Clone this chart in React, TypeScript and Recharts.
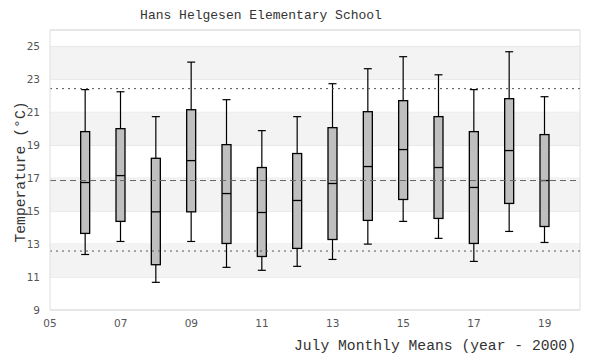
import React from 'react';
import {
    ComposedChart, Bar, XAxis, YAxis, CartesianGrid,
    ReferenceArea, ReferenceLine
} from 'recharts';

// July monthly mean temperatures, year - 2000
const years = [6, 7, 8, 9, 10, 11, 12, 13, 14, 15, 16, 17, 18, 19];
const whiskerLow = [12.37, 13.16, 10.68, 13.16, 11.59, 11.41, 11.65, 12.07, 13.0, 14.38, 13.35, 11.95, 13.77, 13.1];
const quartile1 = [13.65, 14.38, 11.75, 14.96, 13.04, 12.25, 12.74, 13.28, 14.44, 15.71, 14.56, 13.04, 15.47, 14.07];
const medians = [16.74, 17.16, 14.96, 18.07, 16.07, 14.92, 15.65, 16.68, 17.71, 18.74, 17.65, 16.44, 18.68, 16.86];
const quartile3 = [19.83, 20.01, 18.21, 21.16, 19.04, 17.65, 18.5, 20.07, 21.04, 21.71, 20.74, 19.83, 21.83, 19.65];
const whiskerHigh = [22.38, 22.25, 20.74, 24.05, 21.77, 19.89, 20.74, 22.74, 23.65, 24.38, 23.28, 22.38, 24.68, 21.95];

const xTicks = [5, 7, 9, 11, 13, 15, 17, 19];
const yTicks = [9, 11, 13, 15, 17, 19, 21, 23, 25];
const bandStarts = [11, 15, 19, 23];
const upperLimit = 22.44;
const lowerLimit = 12.58;
const overallMean = 16.86;

const data = years.map((yr, i) => ({
    year: yr,
    low: whiskerLow[i],
    q1: quartile1[i],
    median: medians[i],
    q3: quartile3[i],
    high: whiskerHigh[i],
}));

const mono = '"Liberation Mono", "DejaVu Sans Mono", monospace';

const BoxShape = (props: any) => {
    const { x, y, width, height, payload } = props;
    if (x == null || y == null) return null;
    const top = Math.min(y, y + height);
    const h = Math.abs(height);
    const { low, q1, median, q3, high } = payload;
    const toPx = (v: number) => top + (h * (high - v)) / (high - low);
    const cx = x + width / 2;
    const yQ1 = toPx(q1);
    const yQ3 = toPx(q3);
    const yMed = toPx(median);
    const cap = 4;
    return (
        <g>
            <line x1={cx} x2={cx} y1={top} y2={yQ3} stroke="#000" strokeWidth={1.2} />
            <line x1={cx} x2={cx} y1={yQ1} y2={top + h} stroke="#000" strokeWidth={1.2} />
            <line x1={cx - cap} x2={cx + cap} y1={top} y2={top} stroke="#000" strokeWidth={1.2} />
            <line x1={cx - cap} x2={cx + cap} y1={top + h} y2={top + h} stroke="#000" strokeWidth={1.2} />
            <rect x={x} y={yQ3} width={width} height={yQ1 - yQ3} fill="#bfbfbf" stroke="#000" strokeWidth={1.3} />
            <line x1={x} x2={x + width} y1={yMed} y2={yMed} stroke="#000" strokeWidth={1.3} />
        </g>
    );
};

export default function App() {
    return (
        <div style={{ width: 600, height: 360, position: 'relative', background: '#fff' }}>
            <style>{'body{margin:0}'}</style>
            <ComposedChart
                width={600}
                height={360}
                data={data}
                margin={{ top: 30, right: 20, bottom: 20, left: 20 }}
            >
                {bandStarts.map((b) => (
                    <ReferenceArea key={b} y1={b} y2={b + 2} fill="#f3f3f3" fillOpacity={1} stroke="none" />
                ))}
                <CartesianGrid vertical={false} stroke="#dedede" strokeWidth={1} />
                <ReferenceLine y={26} stroke="#dedede" />
                <ReferenceLine x={20} stroke="#dedede" />
                <XAxis
                    type="number"
                    dataKey="year"
                    domain={[5, 20]}
                    ticks={xTicks}
                    allowDataOverflow
                    height={30}
                    tickFormatter={(v: number) => String(v).padStart(2, '0')}
                    axisLine={{ stroke: '#dedede' }}
                    tickLine={false}
                    tickSize={0}
                    tickMargin={10}
                    tick={{ fill: '#555', fontSize: 10.5, fontFamily: '"DejaVu Sans", sans-serif' }}
                />
                <YAxis
                    type="number"
                    domain={[9, 26]}
                    ticks={yTicks}
                    allowDataOverflow
                    width={30}
                    axisLine={{ stroke: '#dedede' }}
                    tickLine={false}
                    tickSize={0}
                    tickMargin={10}
                    tick={{ fill: '#555', fontSize: 10.5, fontFamily: '"DejaVu Sans", sans-serif' }}
                />
                <ReferenceLine y={upperLimit} stroke="#555" strokeDasharray="2 4" />
                <ReferenceLine y={lowerLimit} stroke="#555" strokeDasharray="2 4" />
                <ReferenceLine y={overallMean} stroke="#666" strokeDasharray="6 4" />
                <Bar
                    dataKey={(d: any) => [d.low, d.high]}
                    barSize={9}
                    shape={<BoxShape />}
                    isAnimationActive={false}
                />
                <text x={261} y={19} textAnchor="middle" fontFamily={mono} fontSize={13} fill="#333">
                    Hans Helgesen Elementary School
                </text>
                <text x={576} y={350} textAnchor="end" fontFamily={mono} fontSize={14.7} fill="#333">
                    July Monthly Means (year - 2000)
                </text>
                <text
                    x={25}
                    y={172}
                    transform="rotate(-90 25 172)"
                    textAnchor="middle"
                    fontFamily={mono}
                    fontSize={14.7}
                    fill="#333"
                >
                    Temperature (°C)
                </text>
            </ComposedChart>
        </div>
    );
}
